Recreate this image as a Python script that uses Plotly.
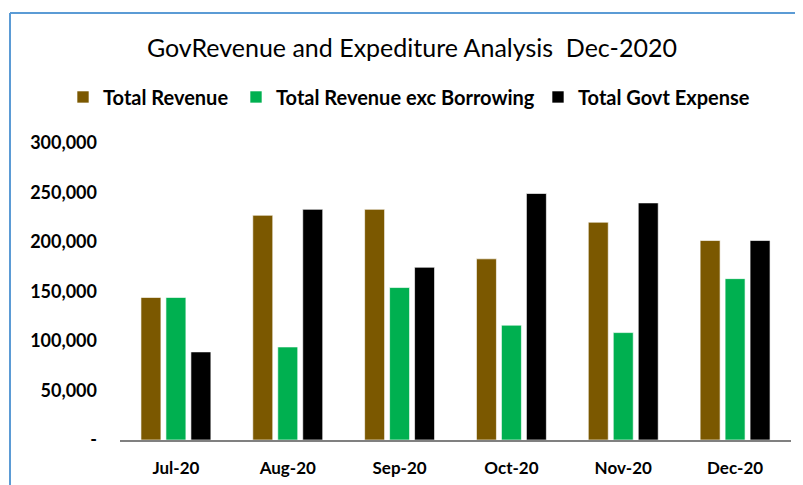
import plotly.graph_objects as go

months = ["Jul-20", "Aug-20", "Sep-20", "Oct-20", "Nov-20", "Dec-20"]
total_revenue = [144000, 227000, 233000, 183000, 220000, 201500]
revenue_exc_borrowing = [144000, 94000, 154000, 116000, 108500, 163000]
total_govt_expense = [89000, 233000, 174500, 249000, 239500, 201500]

y_ticks = [0, 50000, 100000, 150000, 200000, 250000, 300000]
y_tick_labels = ["-", "50,000", "100,000", "150,000", "200,000", "250,000", "300,000"]

series = [
    ("Total Revenue", total_revenue, "#7B5800", "legend"),
    ("Total Revenue exc Borrowing", revenue_exc_borrowing, "#00B050", "legend2"),
    ("Total Govt Expense", total_govt_expense, "#000000", "legend3"),
]

FONT = "Lato"

fig = go.Figure()
for name, vals, col, lg in series:
    fig.add_trace(go.Bar(
        x=months, y=vals, name=name, legend=lg,
        marker=dict(color=col, line=dict(color="rgba(255,255,255,0.8)", width=0.8)),
    ))

legend_font = dict(family=FONT, size=20, color="#000000", weight="bold")
legend_left_px = [55, 228, 530]


def legend_cfg(px):
    return dict(
        orientation="h", xref="container", x=px / 803, xanchor="left",
        y=1.155, yanchor="middle", font=legend_font,
        bgcolor="rgba(0,0,0,0)",
    )


fig.update_layout(
    width=803, height=485,
    margin=dict(l=112, r=20, t=135, b=53, autoexpand=False),
    paper_bgcolor="white", plot_bgcolor="white",
    barmode="group", bargap=0.33, bargroupgap=0.2,
    font=dict(family=FONT, color="#000000"),
    title=dict(
        text="GovRevenue and Expediture Analysis  Dec-2020",
        x=0.503, xanchor="center", xref="container",
        y=0.9175, yanchor="middle", yref="container",
        font=dict(family=FONT, size=25, color="#000000"),
    ),
    legend=legend_cfg(legend_left_px[0]),
    legend2=legend_cfg(legend_left_px[1]),
    legend3=legend_cfg(legend_left_px[2]),
    showlegend=True,
)
fig.update_xaxes(
    showgrid=False, showline=True, linecolor="#808080", linewidth=2,
    ticks="", ticklabelstandoff=12, automargin=False,
    tickfont=dict(family=FONT, size=17, color="#000000", weight="bold"),
)
fig.update_yaxes(
    range=[0, 300000], tickvals=y_ticks, ticktext=y_tick_labels,
    showgrid=False, zeroline=False, showline=False, ticks="",
    ticklabelstandoff=22, automargin=False,
    tickfont=dict(family=FONT, size=18, color="#000000", weight="bold"),
)
# chart-area border (top and left edges visible)
fig.add_shape(type="line", xref="paper", yref="paper",
              x0=(10 - 120) / 671, x1=1.1, y0=(440 - 13) / 297, y1=(440 - 13) / 297,
              line=dict(color="#5B9BD5", width=2))
fig.add_shape(type="line", xref="paper", yref="paper",
              x0=(10 - 120) / 671, x1=(10 - 120) / 671, y0=(440 - 13) / 297, y1=-0.3,
              line=dict(color="#5B9BD5", width=2))

fig.write_html("out.html")
